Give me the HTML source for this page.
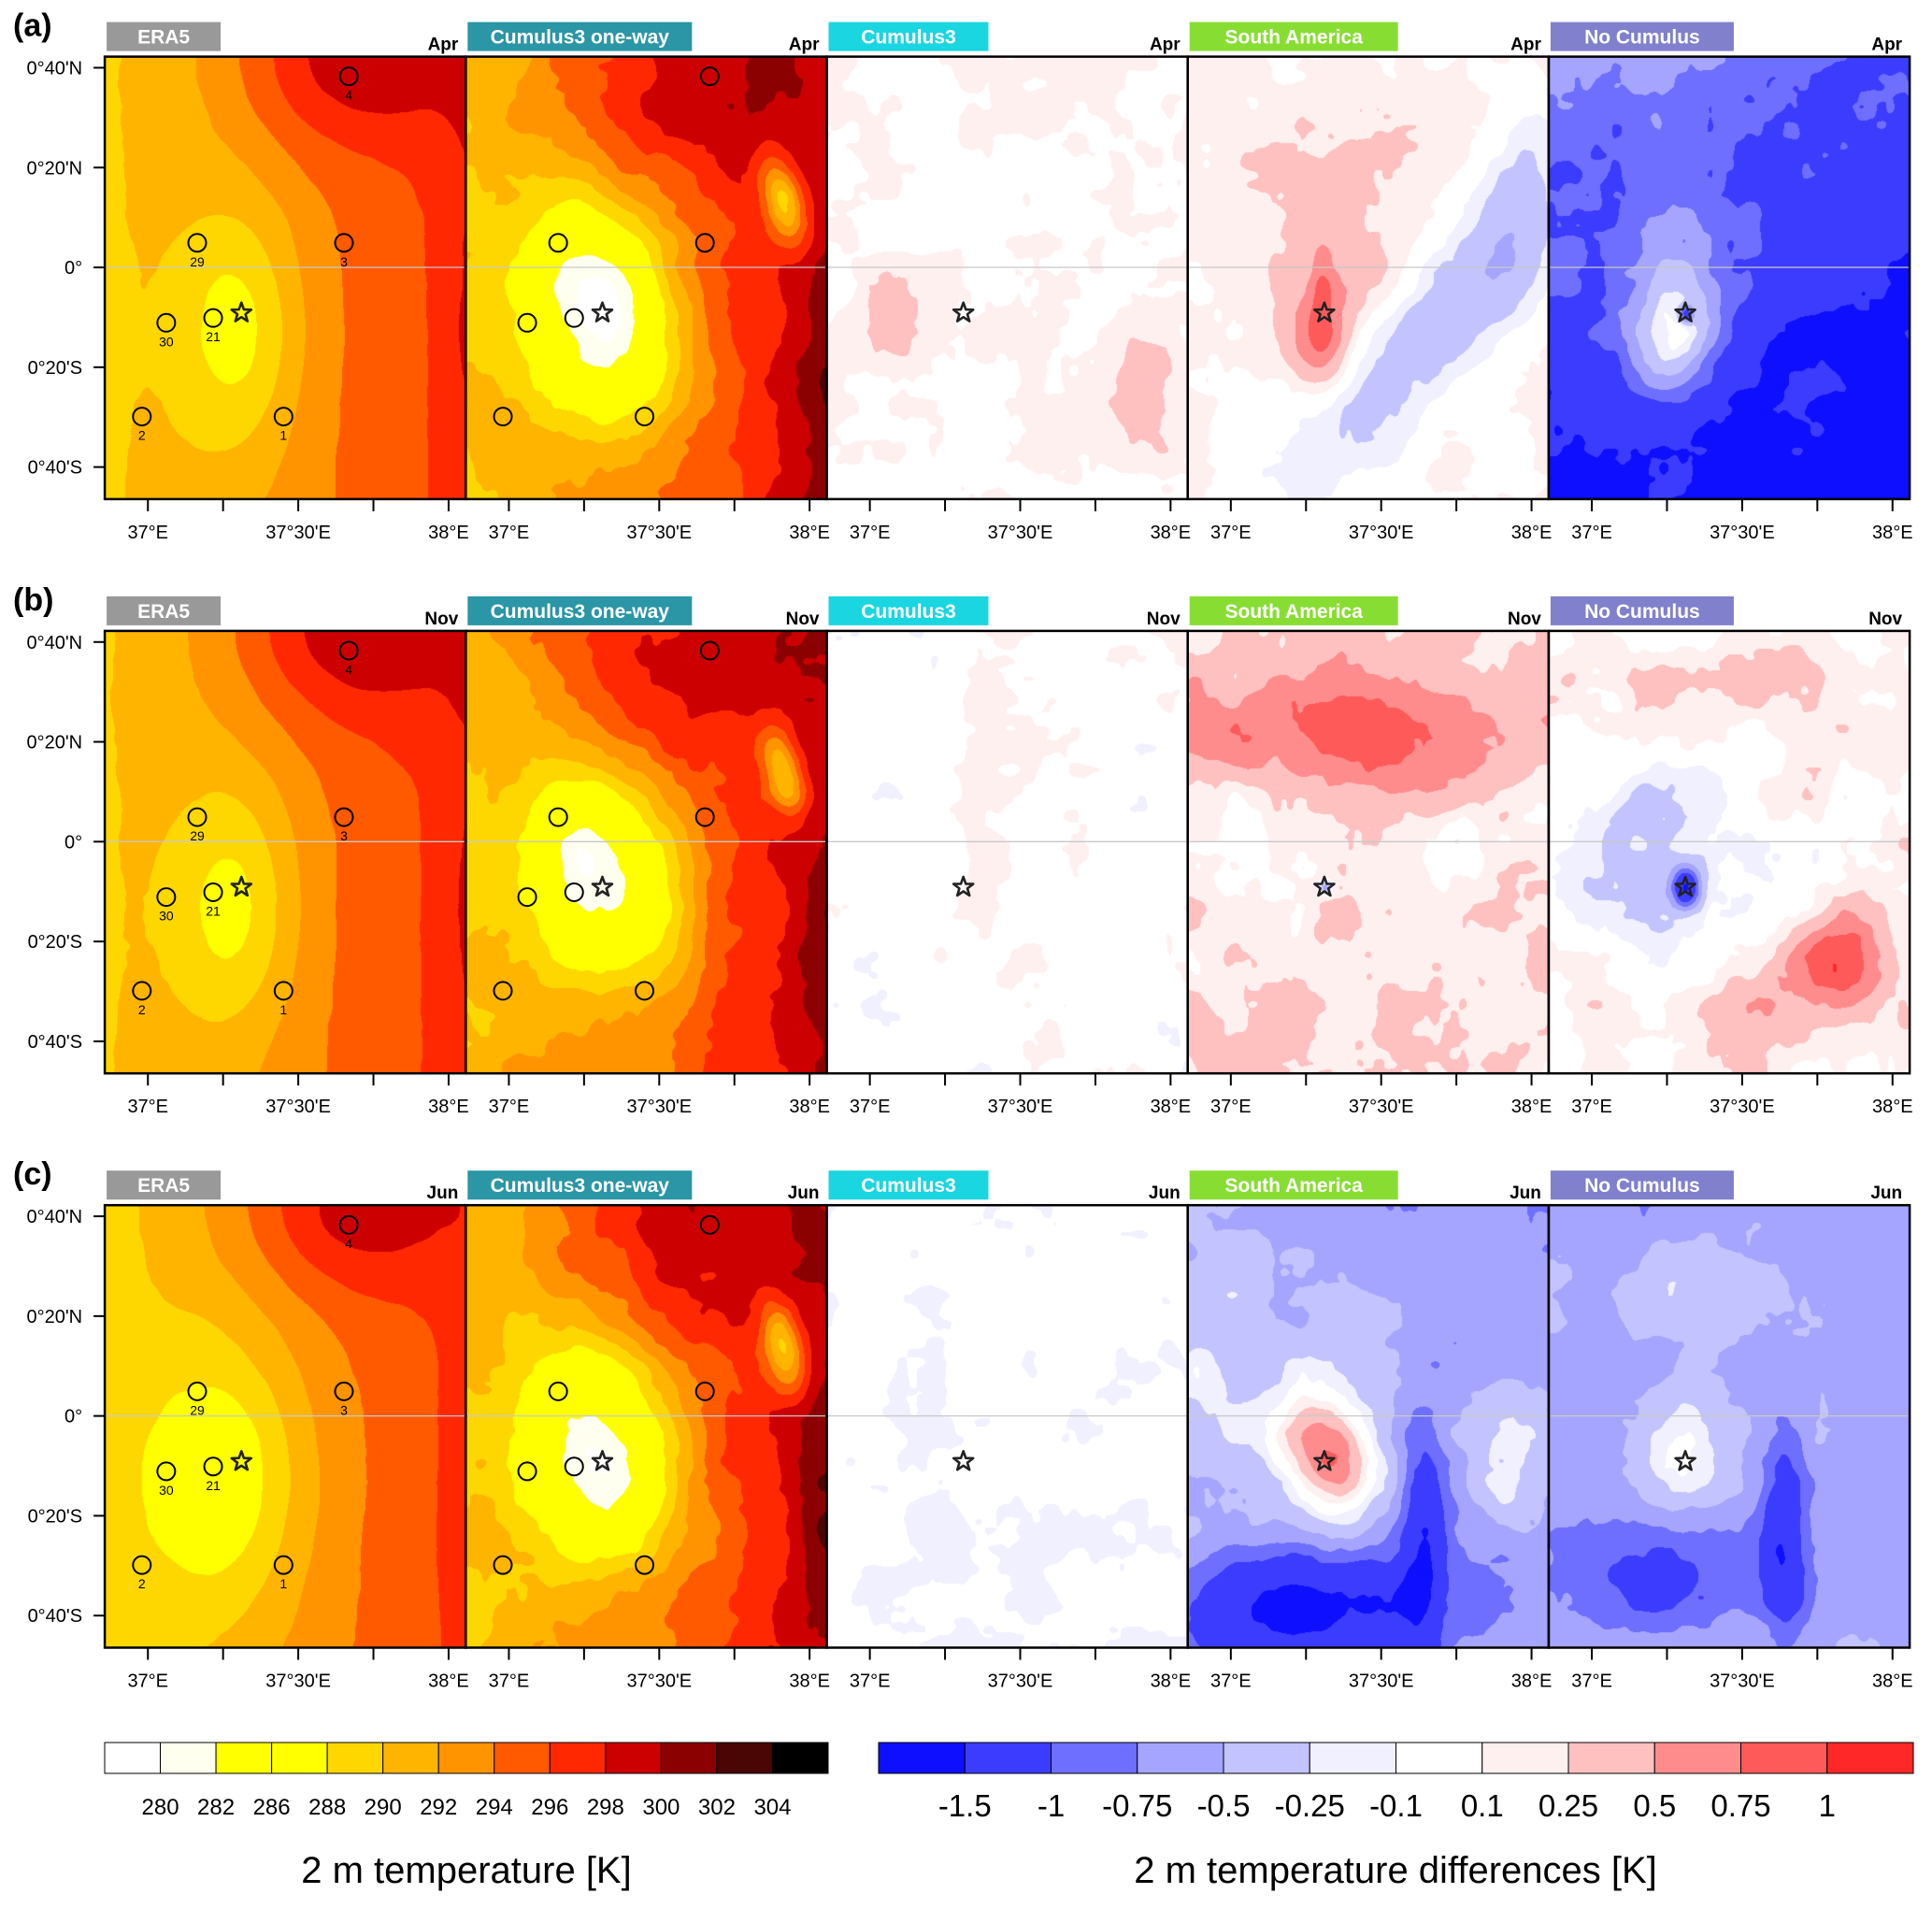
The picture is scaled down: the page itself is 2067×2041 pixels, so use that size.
<!DOCTYPE html>
<html><head><meta charset="utf-8">
<style>
html,body{margin:0;padding:0;background:#fff;}
#wrap{position:relative;width:2067px;height:2041px;overflow:hidden;background:#fff;}
canvas{position:absolute;}
svg{position:absolute;left:0;top:0;}
text{font-family:"Liberation Sans",sans-serif;}
</style></head>
<body>
<div id="wrap">
<svg id="ov" width="2067" height="2041"></svg>
</div>
<script>
// ---------- data ----------
const tempLevels=[280,282,286,288,290,292,294,296,298,300,302,304];
const tempColors=["#ffffff","#fffff0","#ffff00","#ffff00","#ffd700","#ffb400","#ff9400","#ff5a00","#ff2800","#cc0000","#8b0000","#4a0505","#000000"];
const diffLevels=[-1.5,-1,-0.75,-0.5,-0.25,-0.1,0.1,0.25,0.5,0.75,1];
const diffLabels=["-1.5","-1","-0.75","-0.5","-0.25","-0.1","0.1","0.25","0.5","0.75","1"];
const diffColors=["#0f0fff","#3c3cff","#6e6eff","#a5a5ff","#c3c3ff","#f0f0ff","#ffffff","#fff0f0","#ffc0c0","#ff8c8c","#ff5a5a","#ff2828"];
const panelTitles=["ERA5","Cumulus3 one-way","Cumulus3","South America","No Cumulus"];
const titleColors=["#999999","#2a96a6","#1ad6e0","#88dd33","#8080cc"];
const titleWidths=[122,240,171,223,196];
const rowLetters=["(a)","(b)","(c)"];
const months=["Apr","Nov","Jun"];
const stationLon=[37.668,37.164,37.652,37.061,37.217,36.98,37.451];
const stationLat=[0.638,0.082,0.082,-0.185,-0.169,-0.498,-0.498];
const stationLabels=["4","29","3","30","21","2","1"];
const starLon=37.311, starLat=-0.152;
const latTicks=[2/3,1/3,0,-1/3,-2/3];
const latTickLabels=["0°40'N","0°20'N","0°","0°20'S","0°40'S"];
const lonTicks=[37,37.25,37.5,37.75,38];
const lonLabelVals=[37,37.5,38];
const lonLabels=["37°E","37°30'E","38°E"];
// field specs: [type, base, gradU, gradV, noiseAmp, seed, blobs [u,v,sx,sy,angleDeg,amp]]
const fieldSpecs=[
 [ // row a
  ["T",289.6,7,0,0.15,1,[[0.37,0.62,0.17,0.28,0,-5.0],[0.67,0.0,0.3,0.2,0,5],[1.0,0.6,0.07,0.5,0,1.6]]],
  ["T",290,8.5,0,1.6,2,[[0.38,0.58,0.2,0.25,-30,-14],[0.6,0.05,0.4,0.22,0,4],[1.0,0.72,0.1,0.35,0,3.2],[0.88,0.32,0.05,0.1,-20,-8]]],
  ["D",0.08,0,0,0.17,3,[[0.2,0.6,0.12,0.12,0,0.2],[0.88,0.72,0.12,0.15,0,0.28]]],
  ["D",0.12,0,0,0.14,4,[[0.6,0.68,0.55,0.15,135,-0.6],[0.9,0.35,0.1,0.3,0,-0.25],[0.4,0.5,0.22,0.3,0,0.3],[0.37,0.64,0.08,0.1,0,0.6],[0.37,0.52,0.03,0.1,0,0.3]]],
  ["D",-0.7,-0.3,-0.9,0.3,5,[[0.35,0.62,0.12,0.15,0,0.9],[0.35,0.55,0.22,0.28,0,0.5],[0.38,0.58,0.02,0.02,0,-1]]]
 ],
 [ // row b
  ["T",289.8,7,0,0.15,6,[[0.36,0.62,0.17,0.28,0,-5.0],[0.67,0.0,0.3,0.2,0,5],[1.0,0.6,0.07,0.5,0,1.4]]],
  ["T",290.2,8.5,0,1.6,7,[[0.38,0.56,0.2,0.25,-30,-13.5],[0.6,0.05,0.4,0.22,0,4],[1.0,0.75,0.1,0.35,0,3],[0.88,0.32,0.05,0.1,-20,-8]]],
  ["D",0.03,0,0,0.22,8,[[0.1,0.7,0.15,0.2,0,-0.15],[0.95,0.9,0.08,0.08,0,-0.2]]],
  ["D",0.25,0,0,0.25,9,[[0.45,0.2,0.5,0.12,0,0.55],[0.6,0.3,0.2,0.1,0,0.3],[0.3,0.5,0.25,0.12,0,-0.2],[0.8,0.45,0.15,0.12,0,-0.25],[0.38,0.58,0.015,0.015,0,-0.8]]],
  ["D",0.08,0,0,0.25,10,[[0.25,0.5,0.3,0.2,0,-0.5],[0.38,0.58,0.04,0.05,0,-1.3],[0.8,0.73,0.12,0.1,0,0.8],[0.6,0.85,0.3,0.12,0,0.3],[0.5,0.1,0.4,0.1,0,0.2]]]
 ],
 [ // row c
  ["T",289.2,7,0,0.15,11,[[0.33,0.62,0.22,0.3,0,-5.5],[0.67,0.0,0.3,0.2,0,5],[1.0,0.6,0.07,0.5,0,1.4]]],
  ["T",290,8.5,0,1.6,12,[[0.38,0.57,0.2,0.25,-30,-13.5],[0.6,0.05,0.4,0.22,0,4],[1.0,0.7,0.1,0.4,0,3],[0.88,0.32,0.05,0.1,-20,-8]]],
  ["D",-0.07,0,0,0.1,13,[[0.3,0.7,0.3,0.2,0,-0.05]]],
  ["D",-0.5,-0.2,0,0.22,14,[[0.35,0.5,0.22,0.22,0,0.5],[0.4,0.57,0.1,0.13,-40,1.0],[0.3,0.9,0.35,0.12,0,-1.2],[0.65,0.75,0.06,0.25,0,-0.8],[0.9,0.55,0.12,0.2,0,0.45],[0.05,0.35,0.1,0.2,0,0.3]]],
  ["D",-0.6,0,0,0.22,15,[[0.38,0.55,0.12,0.15,0,0.55],[0.65,0.75,0.06,0.22,0,-0.8],[0.3,0.85,0.35,0.12,0,-0.5],[0.4,0.2,0.25,0.1,0,0.3]]]
 ]
];
// ---------- layout ----------
const PX0=112.1, PW=386.2, PH=473.3;
const rowTops=[60.6,674.9,1289.2];
const lonL=36.8566, lonR=38.057, latT=0.7037, latB=-0.7737;
function xOf(col,lon){return PX0+col*PW+(lon-lonL)/(lonR-lonL)*PW;}
function yOf(row,lat){return rowTops[row]+(latT-lat)/(latT-latB)*PH;}
const NS="http://www.w3.org/2000/svg";
const ov=document.getElementById('ov');
function mk(tag,attrs,parent){const e=document.createElementNS(NS,tag);for(const k in attrs)e.setAttribute(k,attrs[k]);(parent||ov).appendChild(e);return e;}
function hexRGB(h){return [parseInt(h.substr(1,2),16),parseInt(h.substr(3,2),16),parseInt(h.substr(5,2),16)];}
const tRGB=tempColors.map(hexRGB), dRGB=diffColors.map(hexRGB);
function classify(v,levels){let i=0;while(i<levels.length&&v>=levels[i])i++;return i;}
function hash(ix,iy,s){let h=ix*374761393+iy*668265263+s*982451653;h=(h^(h>>>13))*1274126177;h=h^(h>>>16);return ((h>>>0)%100000)/100000;}
function vnoise(x,y,s){const ix=Math.floor(x),iy=Math.floor(y);let fx=x-ix,fy=y-iy;fx=fx*fx*(3-2*fx);fy=fy*fy*(3-2*fy);
 const a=hash(ix,iy,s),b=hash(ix+1,iy,s),c=hash(ix,iy+1,s),d=hash(ix+1,iy+1,s);
 return (a+(b-a)*fx+(c-a)*fy+(a-b-c+d)*fx*fy)*2-1;}
function fbm(u,v,s){return 0.55*vnoise(u*7,v*8,s)+0.3*vnoise(u*16,v*19,s+50)+0.15*vnoise(u*38,v*45,s+99);}
function fieldVal(sp,u,v){
 let val=sp[1]+sp[2]*u+sp[3]*v;
 for(const b of sp[6]){const a=b[4]*Math.PI/180,ca=Math.cos(a),sa=Math.sin(a);const dx=u-b[0],dy=v-b[1];
  const p=dx*ca+dy*sa,q=-dx*sa+dy*ca;val+=b[5]*Math.exp(-(p*p/(b[2]*b[2])+q*q/(b[3]*b[3])));}
 if(sp[4])val+=sp[4]*fbm(u,v,sp[5]);
 return val;}
// ---------- panels ----------
const wrap=document.getElementById('wrap');
for(let r=0;r<3;r++){
 for(let c=0;c<5;c++){
  const sp=fieldSpecs[r][c];
  const cv=document.createElement('canvas');
  const W=Math.round(PW),H=Math.round(PH);
  cv.width=W;cv.height=H;
  cv.style.left=(PX0+c*PW)+'px';cv.style.top=rowTops[r]+'px';
  cv.style.width=PW+'px';cv.style.height=PH+'px';
  
  
  wrap.insertBefore(cv,ov);
  const ctx=cv.getContext('2d');const img=ctx.createImageData(W,H);const d=img.data;
  const isT=sp[0]==="T";
  for(let y=0;y<H;y++)for(let x=0;x<W;x++){
   const v=fieldVal(sp,x/W,y/H);
   const col=isT?tRGB[classify(v,tempLevels)]:dRGB[classify(v,diffLevels)];
   const i=(y*W+x)*4;d[i]=col[0];d[i+1]=col[1];d[i+2]=col[2];d[i+3]=255;}
  ctx.putImageData(img,0,0);
 }
}
// ---------- overlay ----------
for(let r=0;r<3;r++){
 const top=rowTops[r];
 const lt=mk('text',{x:14,y:top-22,'font-size':34,'font-weight':'bold',fill:'#000'});
 lt.textContent=rowLetters[r];
 
 
 const eq=mk('line',{x1:PX0,x2:PX0+5*PW,y1:yOf(r,0),y2:yOf(r,0),stroke:'#c8c8c8','stroke-width':1.3});
 
 
 latTicks.forEach((lat,i)=>{
  const y=yOf(r,lat);
  const tk=mk('line',{x1:PX0-12,x2:PX0,y1:y,y2:y,stroke:'#000','stroke-width':2});
  
  
  const tl=mk('text',{x:PX0-24,y:y+7,'font-size':20,'text-anchor':'end',fill:'#000'});
  tl.textContent=latTickLabels[i];
  
  
 });
 for(let c=0;c<5;c++){
  const x0=PX0+c*PW;
  const tb=mk('rect',{x:x0+2,y:top-37,width:titleWidths[c],height:31,fill:titleColors[c]});
  
  
  const tt=mk('text',{x:x0+2+titleWidths[c]/2,y:top-14,'font-size':21,'font-weight':'bold','text-anchor':'middle',fill:'#fff'});
  tt.textContent=panelTitles[c];
  
  
  const mt=mk('text',{x:x0+PW-8,y:top-7,'font-size':19,'font-weight':'bold','text-anchor':'end',fill:'#000'});
  mt.textContent=months[r];
  
  
  lonTicks.forEach(lon=>{
   const x=xOf(c,lon);
   const tk=mk('line',{x1:x,x2:x,y1:top+PH,y2:top+PH+13,stroke:'#000','stroke-width':2});
   
   
  });
  lonLabelVals.forEach((lon,i)=>{
   const tl=mk('text',{x:xOf(c,lon),y:top+PH+42,'font-size':20,'text-anchor':'middle',fill:'#000'});
   tl.textContent=lonLabels[i];
   
   
  });
  if(c<2){
   const sp=fieldSpecs[r][c];
   stationLon.forEach((lon,i)=>{
    const cx=xOf(c,lon),cy=yOf(r,stationLat[i]);
    const tv=fieldVal(sp,(cx-x0)/PW,(cy-top)/PH);
    const fc=tempColors[classify(tv,tempLevels)];
    const st=mk('circle',{cx:cx,cy:cy,r:9.5,fill:fc,stroke:'#000','stroke-width':2});
    
    
    if(c===0){
     const sl=mk('text',{x:cx,y:cy+25,'font-size':14,'text-anchor':'middle',fill:'#000'});
     sl.textContent=stationLabels[i];
     
     
    }
   });
  }
  const sx=xOf(c,starLon),sy=yOf(r,starLat);let pts=[];
  for(let k=0;k<10;k++){const a=-Math.PI/2+k*Math.PI/5,rr=k%2?4.5:11;pts.push((sx+rr*Math.cos(a)).toFixed(1)+','+(sy+rr*Math.sin(a)).toFixed(1));}
  const star=mk('polygon',{points:pts.join(' '),fill:'none',stroke:'#222','stroke-width':2.6,'stroke-linejoin':'round'});
  
  
  const bd=mk('rect',{x:x0,y:top,width:PW,height:PH,fill:'none',stroke:'#000','stroke-width':2.5});
  
  
 }
}
// ---------- colorbars ----------
const cbY=1864,cbH=33;
(function(){
 const x0=112,x1=886,n=tempColors.length,w=(x1-x0)/n;
 tempColors.forEach((col,i)=>{
  const rc=mk('rect',{x:x0+i*w,y:cbY,width:w,height:cbH,fill:col,stroke:'#000','stroke-width':1});
  
  
 });
 tempLevels.forEach((lv,i)=>{
  const t=mk('text',{x:x0+(i+1)*w,y:1941,'font-size':24,'text-anchor':'middle',fill:'#000'});
  t.textContent=lv;
  
  
 });
 const tt=mk('text',{x:499,y:2014,'font-size':40,'text-anchor':'middle',fill:'#000'});
 tt.textContent="2 m temperature [K]";
 
 
})();
(function(){
 const x0=940,x1=2047,n=diffColors.length,w=(x1-x0)/n;
 diffColors.forEach((col,i)=>{
  const rc=mk('rect',{x:x0+i*w,y:cbY,width:w,height:cbH,fill:col,stroke:'#000','stroke-width':1});
  
  
 });
 diffLabels.forEach((lb,i)=>{
  const t=mk('text',{x:x0+(i+1)*w,y:1943,'font-size':33,'text-anchor':'middle',fill:'#000'});
  t.textContent=lb;
  
  
 });
 const tt=mk('text',{x:1493,y:2014,'font-size':40,'text-anchor':'middle',fill:'#000'});
 tt.textContent="2 m temperature differences [K]";
 
 
})();
</script>
</body></html>
